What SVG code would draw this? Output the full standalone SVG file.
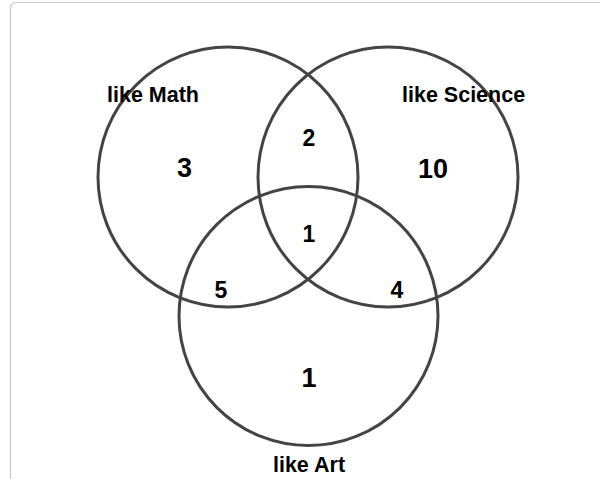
<svg xmlns="http://www.w3.org/2000/svg" width="600" height="479" viewBox="0 0 600 479">
<style>
.set{fill:none;stroke:#444;stroke-width:3}
.lbl{font-family:"Liberation Sans",Arial,sans-serif;font-weight:bold;font-size:21.5px;fill:#000}
.big{font-family:"Liberation Sans",Arial,sans-serif;font-weight:bold;font-size:27px;fill:#000;text-anchor:middle}
.mid{font-family:"Liberation Sans",Arial,sans-serif;font-weight:bold;font-size:23px;fill:#000;text-anchor:middle}
</style>
<rect x="10.5" y="2.5" width="620" height="500" rx="5" fill="#fff" stroke="#ccc" stroke-width="1.2"/>
<g id="math"><circle class="set" cx="228" cy="177" r="130"/><text class="lbl" x="107" y="102">like Math</text></g>
<g id="science"><circle class="set" cx="388" cy="177" r="130"/><text class="lbl" x="402" y="102">like Science</text></g>
<g id="art"><circle class="set" cx="308.5" cy="316" r="129.5"/><text class="lbl" x="309" y="472" text-anchor="middle">like Art</text></g>
<g id="counts">
<text class="big" x="184.5" y="177">3</text>
<text class="big" x="433" y="178">10</text>
<text class="mid" x="309" y="146">2</text>
<text class="mid" x="309" y="242">1</text>
<text class="mid" x="221" y="298">5</text>
<text class="mid" x="397" y="298">4</text>
<text class="big" x="309" y="387">1</text>
</g>
</svg>
